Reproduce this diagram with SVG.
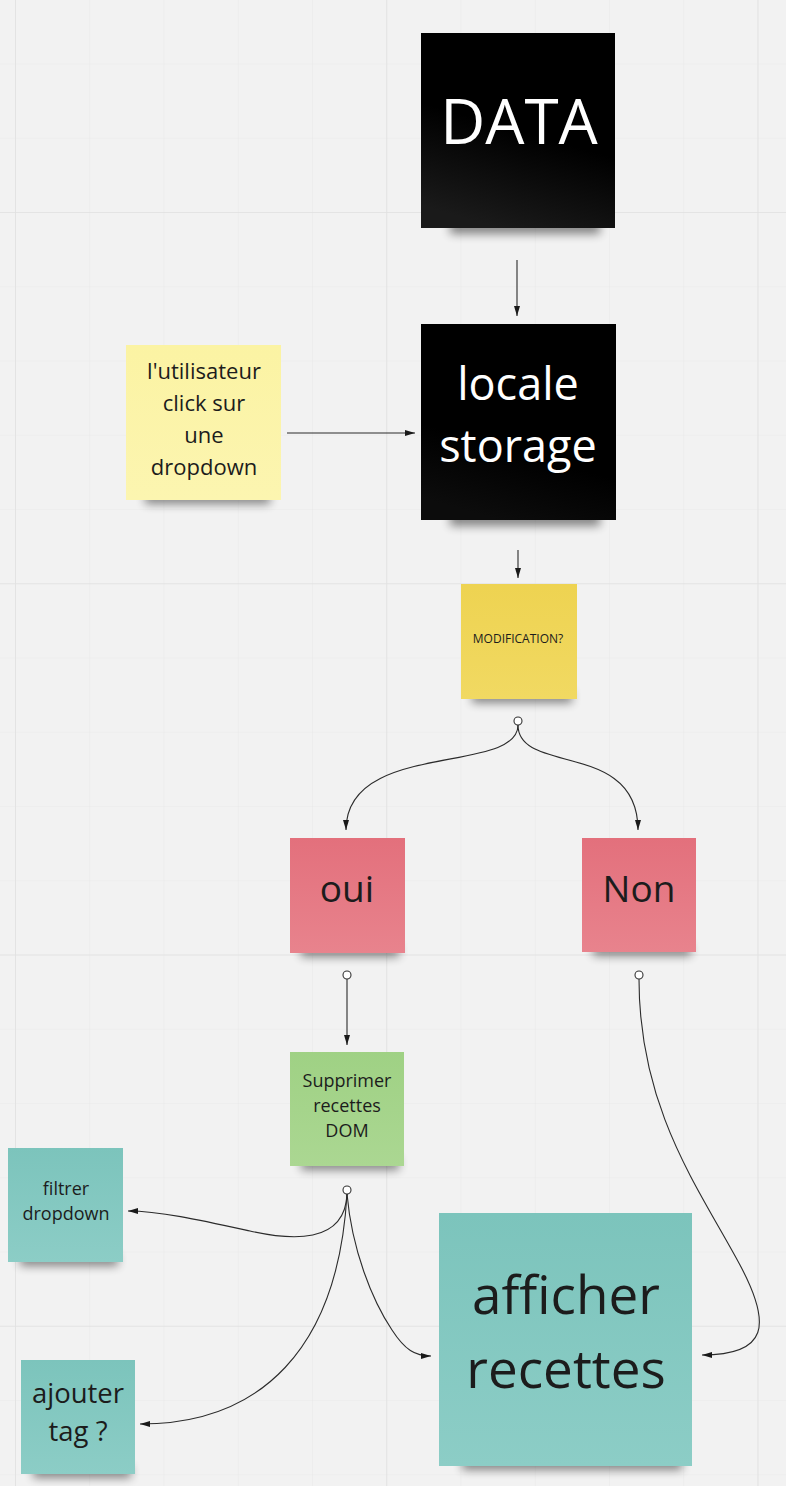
<svg xmlns="http://www.w3.org/2000/svg" width="786" height="1486" viewBox="0 0 786 1486">
<style>
.t{font-family:"Open Sans","Noto Sans","Liberation Sans",sans-serif;text-anchor:middle;fill:#1c1c1c}
.w{fill:#ffffff}
.c{fill:none;stroke:#2b2b2b;stroke-width:1.1}
.dot{fill:#ffffff;stroke:#333;stroke-width:1.1}
.sh{fill:#000;opacity:0.45;filter:url(#blur)}
</style>
<defs>
<pattern id="minor" patternUnits="userSpaceOnUse" x="15" y="212" width="74.25" height="74.25">
<path d="M0,0 H74.25 M0,0 V74.25" stroke="#e9e9e9" stroke-width="1.2" fill="none"/>
</pattern>
<pattern id="major" patternUnits="userSpaceOnUse" x="15" y="212" width="371.25" height="371.25">
<path d="M0,0 H371.25 M0,0 V371.25" stroke="#e1e1e1" stroke-width="1.6" fill="none"/>
</pattern>
<filter id="blur" x="-20%" y="-100%" width="140%" height="300%"><feGaussianBlur stdDeviation="5"/></filter>
<linearGradient id="gb" x1="0.6" y1="0.3" x2="0.4" y2="1"><stop offset="0.3" stop-color="#000"/><stop offset="1" stop-color="#1a1a1a"/></linearGradient>
<linearGradient id="gb2" x1="0.6" y1="0.3" x2="0.4" y2="1"><stop offset="0.5" stop-color="#000"/><stop offset="1" stop-color="#0c0c0c"/></linearGradient>
<linearGradient id="gy" x1="0" y1="0" x2="0" y2="1"><stop offset="0" stop-color="#eed351"/><stop offset="1" stop-color="#f1d962"/></linearGradient>
<linearGradient id="gp" x1="0" y1="0" x2="0" y2="1"><stop offset="0" stop-color="#e3707c"/><stop offset="1" stop-color="#e8838d"/></linearGradient>
<linearGradient id="gg" x1="0" y1="0" x2="0" y2="1"><stop offset="0" stop-color="#9fd184"/><stop offset="1" stop-color="#abd792"/></linearGradient>
<linearGradient id="gt" x1="0" y1="0" x2="0" y2="1"><stop offset="0" stop-color="#7cc4bc"/><stop offset="1" stop-color="#8ccdc6"/></linearGradient>
<linearGradient id="gl" x1="0" y1="0" x2="0" y2="1"><stop offset="0" stop-color="#fbf3a3"/><stop offset="1" stop-color="#fcf5b0"/></linearGradient>
<marker id="ar" viewBox="0 0 10 6" refX="10" refY="3" markerWidth="10" markerHeight="6" markerUnits="userSpaceOnUse" orient="auto">
<path d="M0,0 L10,3 L0,6 Z" fill="#1a1a1a"/>
</marker>
</defs>
<rect width="786" height="1486" fill="#f2f2f2"/>
<rect width="786" height="1486" fill="url(#minor)"/>
<rect width="786" height="1486" fill="url(#major)"/>

<g id="data">
<rect class="sh" x="450" y="220" width="150" height="14"/>
<rect x="421" y="33" width="194" height="195" fill="url(#gb)"/>
<text class="t w" x="519" y="144" font-size="62">DATA</text>
</g>
<g id="locale-storage">
<rect class="sh" x="450" y="512" width="150" height="14"/>
<rect x="421" y="324" width="195" height="196" fill="url(#gb2)"/>
<text class="t w" x="518" y="400" font-size="45">locale</text>
<text class="t w" x="518" y="462" font-size="45">storage</text>
</g>
<g id="utilisateur">
<rect class="sh" x="145" y="492" width="125" height="12"/>
<rect x="126" y="345" width="155" height="155" fill="url(#gl)"/>
<text class="t" x="204" y="379" font-size="22">l'utilisateur</text>
<text class="t" x="204" y="411" font-size="22">click sur</text>
<text class="t" x="204" y="443" font-size="22">une</text>
<text class="t" x="204" y="475" font-size="22">dropdown</text>
</g>
<g id="modification">
<rect class="sh" x="472" y="691" width="100" height="12"/>
<rect x="461" y="584" width="116" height="115" fill="url(#gy)"/>
<text class="t" x="518" y="643" font-size="12">MODIFICATION?</text>
</g>
<g id="oui">
<rect class="sh" x="301" y="945" width="98" height="12"/>
<rect x="290" y="838" width="115" height="115" fill="url(#gp)"/>
<text class="t" x="347" y="902" font-size="37">oui</text>
</g>
<g id="non">
<rect class="sh" x="593" y="944" width="98" height="12"/>
<rect x="582" y="838" width="114" height="114" fill="url(#gp)"/>
<text class="t" x="639" y="902" font-size="37">Non</text>
</g>
<g id="supprimer">
<rect class="sh" x="301" y="1158" width="98" height="12"/>
<rect x="290" y="1052" width="114" height="114" fill="url(#gg)"/>
<text class="t" x="347" y="1087" font-size="18">Supprimer</text>
<text class="t" x="347" y="1112" font-size="18">recettes</text>
<text class="t" x="347" y="1137" font-size="18">DOM</text>
</g>
<g id="filtrer">
<rect class="sh" x="20" y="1254" width="98" height="12"/>
<rect x="8" y="1148" width="115" height="114" fill="url(#gt)"/>
<text class="t" x="66" y="1195" font-size="18">filtrer</text>
<text class="t" x="66" y="1220" font-size="18">dropdown</text>
</g>
<g id="ajouter">
<rect class="sh" x="33" y="1466" width="98" height="12"/>
<rect x="21" y="1360" width="114" height="114" fill="url(#gt)"/>
<text class="t" x="78" y="1403" font-size="27.5">ajouter</text>
<text class="t" x="78" y="1441" font-size="27.5">tag ?</text>
</g>
<g id="afficher">
<rect class="sh" x="462" y="1456" width="220" height="14"/>
<rect x="439" y="1213" width="253" height="253" fill="url(#gt)"/>
<text class="t" x="566" y="1314" font-size="53">afficher</text>
<text class="t" x="566" y="1388" font-size="53">recettes</text>
</g>

<g id="connectors">
<path class="c" d="M517,260 V316" marker-end="url(#ar)"/>
<path class="c" d="M287,433 H415" marker-end="url(#ar)"/>
<path class="c" d="M518,550 V578" marker-end="url(#ar)"/>
<path class="c" d="M518,725 C518,775 346,740 346,830" marker-end="url(#ar)"/>
<path class="c" d="M518,725 C518,775 638,740 638,830" marker-end="url(#ar)"/>
<circle class="dot" cx="518" cy="721" r="4"/>
<path class="c" d="M347,979 V1045" marker-end="url(#ar)"/>
<circle class="dot" cx="347" cy="975" r="4"/>
<path class="c" d="M639,979 C639,1110 700,1190 740,1265 C772,1325 768,1355 702,1355" marker-end="url(#ar)"/>
<circle class="dot" cx="639" cy="975" r="4"/>
<path class="c" d="M347,1194 C345,1245 290,1240 250,1231 C200,1220 160,1211 128,1211" marker-end="url(#ar)"/>
<path class="c" d="M347,1194 C338,1350 260,1424 140,1424" marker-end="url(#ar)"/>
<path class="c" d="M347,1194 C352,1250 372,1300 392,1330 C405,1350 415,1356 431,1356" marker-end="url(#ar)"/>
<circle class="dot" cx="347" cy="1190" r="4"/>
</g>
</svg>
